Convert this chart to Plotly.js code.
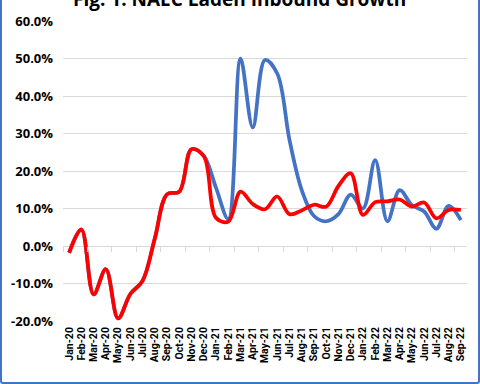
<!DOCTYPE html>
<html>
<head>
<meta charset="utf-8">
<script src="https://cdn.plot.ly/plotly-3.0.1.min.js"></script>
<style>
  html, body { margin: 0; padding: 0; background: #fff; }
  #wrap { position: relative; width: 480px; height: 384px; overflow: hidden; }
  #chart { width: 480px; height: 384px; }
  #frame { position: absolute; left: 0; top: -4px; width: 480px; height: 388px; box-sizing: border-box;
           border: 2px solid #4472C4; border-radius: 3px; pointer-events: none; }
</style>
</head>
<body>
<div id="wrap"><div id="chart"></div><div id="frame"></div></div>
<script>
const months = ["Jan-20","Feb-20","Mar-20","Apr-20","May-20","Jun-20","Jul-20","Aug-20","Sep-20","Oct-20","Nov-20","Dec-20",
  "Jan-21","Feb-21","Mar-21","Apr-21","May-21","Jun-21","Jul-21","Aug-21","Sep-21","Oct-21","Nov-21","Dec-21",
  "Jan-22","Feb-22","Mar-22","Apr-22","May-22","Jun-22","Jul-22","Aug-22","Sep-22"];

// Blue series (values in %)
const blueSeries = [-1.8, 4.4, -12.9, -6.2, -19.3, -12.8, -9.3, 2.0, 13.8, 14.5, 25.8, 24.0,
  15.5, 7.2, 50.0, 31.6, 49.6, 46.0, 28.3, 14.9, 8.0, 6.6, 8.5, 13.7,
  10.0, 22.9, 6.6, 14.9, 10.9, 9.2, 4.6, 10.7, 6.9];

// Red series (values in %)
const redSeries = [-1.8, 4.4, -12.9, -6.2, -19.3, -12.8, -9.3, 2.0, 13.8, 14.5, 25.8, 24.0,
  7.5, 6.5, 14.5, 11.2, 9.8, 13.2, 8.5, 9.5, 11.0, 10.5, 16.0, 19.4,
  8.3, 11.7, 11.9, 12.4, 10.5, 11.6, 7.4, 9.6, 9.6];

const yTicks = [-20, -10, 0, 10, 20, 30, 40, 50, 60];
const yTickText = yTicks.map(v => v.toFixed(1) + "%");
const titleText = "Fig. 1: NAEC Laden Inbound Growth";

const traces = [
  { x: months, y: blueSeries, type: "scatter", mode: "lines",
    line: { color: "#4472C4", width: 3.75, shape: "spline", smoothing: 1 }, hoverinfo: "skip" },
  { x: months, y: redSeries, type: "scatter", mode: "lines",
    line: { color: "#FF0000", width: 3.75, shape: "spline", smoothing: 1 }, hoverinfo: "skip" },
  // invisible helper trace so the zero-line tick axis exists
  { x: months, y: redSeries, type: "scatter", mode: "lines", xaxis: "x2",
    line: { color: "rgba(0,0,0,0)", width: 0 }, hoverinfo: "skip" }
];

const layout = {
  width: 480, height: 384,
  margin: { l: 63, r: 13, t: 21, b: 63, autoexpand: false },
  paper_bgcolor: "#fff", plot_bgcolor: "#fff",
  showlegend: false,
  xaxis: {
    type: "category", categoryarray: months, range: [-0.5, 32.5],
    tickmode: "array", tickvals: months, ticktext: months,
    showgrid: false, zeroline: false, showline: false, ticks: "",
    tickangle: -90, ticklabelstandoff: 3,
    tickfont: { family: "Roboto", size: 10.5, color: "#000", weight: "bold" }
  },
  xaxis2: {
    type: "category", categoryarray: months, range: [-0.5, 32.5],
    overlaying: "x", anchor: "free", position: 0.25,
    showgrid: false, zeroline: false, showline: false, showticklabels: false,
    ticks: "outside", ticklen: 5, tickwidth: 1, tickcolor: "#D9D9D9", tickson: "boundaries"
  },
  yaxis: {
    range: [-20, 60], tickmode: "array", tickvals: yTicks, ticktext: yTickText,
    showgrid: true, gridcolor: "#D9D9D9", gridwidth: 1, zeroline: false, showline: false, ticks: "",
    ticklabelstandoff: 9,
    tickfont: { family: "Open Sans", size: 13, color: "#000", weight: "bold" }
  },
  annotations: [
    { text: titleText, xref: "paper", yref: "paper", x: 0.436, y: 1.025, xanchor: "center", yanchor: "bottom",
      showarrow: false, font: { family: "Open Sans", size: 19, color: "#000", weight: "bold" } }
  ]
};

Plotly.newPlot("chart", traces, layout, { displayModeBar: false, staticPlot: true });
</script>
</body>
</html>
